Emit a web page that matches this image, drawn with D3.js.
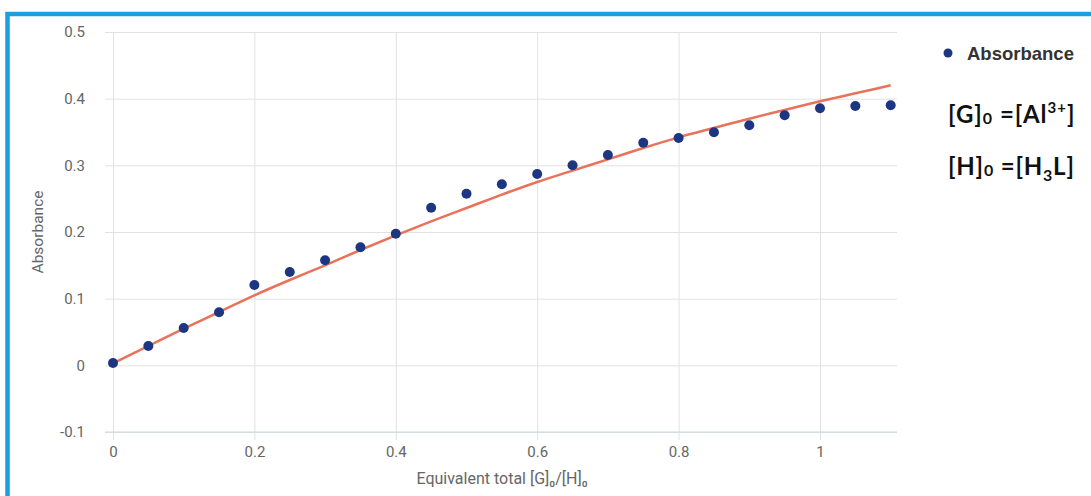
<!DOCTYPE html>
<html>
<head>
<meta charset="utf-8">
<script src="https://cdn.jsdelivr.net/npm/d3@7"></script>
<style>
  html, body { margin: 0; padding: 0; background: #fff; }
  svg { display: block; }
</style>
</head>
<body>
<svg id="chart" width="1091" height="496"></svg>
<script>
// ---- data ----
const ratios = [0, 0.05, 0.1, 0.15, 0.2, 0.25, 0.3, 0.35, 0.4, 0.45, 0.5, 0.55,
                0.6, 0.65, 0.7, 0.75, 0.8, 0.85, 0.9, 0.95, 1.0, 1.05, 1.1];
const absorbance = [0.0035, 0.029, 0.056, 0.0795, 0.1205, 0.14, 0.1575, 0.177, 0.1975,
                    0.2365, 0.2575, 0.2715, 0.287, 0.300, 0.3155, 0.334, 0.341, 0.3495,
                    0.360, 0.375, 0.3855, 0.389, 0.390];
const fitted = [0.003, 0.029, 0.055, 0.080, 0.105, 0.128, 0.150, 0.173, 0.195,
                0.216, 0.236, 0.256, 0.275, 0.292, 0.309, 0.326, 0.342, 0.356,
                0.370, 0.383, 0.396, 0.408, 0.420];
const xTicks = [0, 0.2, 0.4, 0.6, 0.8, 1];
const xTickLabels = ["0", "0.2", "0.4", "0.6", "0.8", "1"];
const yTicks = [-0.1, 0, 0.1, 0.2, 0.3, 0.4, 0.5];
const yTickLabels = ["-0.1", "0", "0.1", "0.2", "0.3", "0.4", "0.5"];
const seriesName = "Absorbance";
const xTitle = "Equivalent total [G]\u2080/[H]\u2080";
const yTitle = "Absorbance";

// ---- layout ----
const svg = d3.select("#chart");
const font = "Roboto, 'Liberation Sans', Arial, sans-serif";
const x = d3.scaleLinear().domain([0, 1.1]).range([113, 890.7]);
const y = d3.scaleLinear().domain([-0.1, 0.5]).range([432, 32]);
const gridLeft = 105, gridRight = 897, gridBottom = 440;

// frame
svg.append("rect")
  .attr("x", 7.5).attr("y", 14).attr("width", 1200).attr("height", 600)
  .attr("fill", "none").attr("stroke", "#1a9fe0").attr("stroke-width", 4.5);

// y axis with horizontal gridlines
const yAxis = svg.append("g")
  .attr("transform", `translate(${gridLeft},0)`)
  .call(d3.axisLeft(y).tickValues(yTicks)
    .tickSize(-(gridRight - gridLeft)).tickPadding(20)
    .tickFormat((d, i) => yTickLabels[i]));
yAxis.select(".domain").remove();
yAxis.selectAll("line").attr("stroke", "#e2e2e2");
yAxis.selectAll("text").attr("fill", "#666").style("font-family", font).style("font-size", "15px");

// x axis with vertical gridlines
const xAxis = svg.append("g")
  .attr("transform", `translate(0,${gridBottom})`)
  .call(d3.axisBottom(x).tickValues(xTicks)
    .tickSize(-(gridBottom - 32)).tickPadding(6)
    .tickFormat((d, i) => xTickLabels[i]));
xAxis.select(".domain").remove();
xAxis.selectAll("line").attr("stroke", "#e2e2e2");
xAxis.selectAll("text").attr("fill", "#666").style("font-family", font).style("font-size", "15px");
// bottom axis line on top of verticals
svg.append("line").attr("x1", gridLeft).attr("x2", gridRight)
  .attr("y1", y(-0.1)).attr("y2", y(-0.1)).attr("stroke", "#ccd6e0");

// axis titles
svg.append("text").attr("x", 502).attr("y", 484).attr("text-anchor", "middle")
  .attr("fill", "#666").style("font-family", font).style("font-size", "16px").text(xTitle);
svg.append("text").attr("transform", "translate(43,232) rotate(-90)").attr("text-anchor", "middle")
  .attr("fill", "#666").style("font-family", font).style("font-size", "15.5px").text(yTitle);

// fitted line
const pts = ratios.map((r, i) => [r, fitted[i]]);
svg.append("path").datum(pts)
  .attr("d", d3.line().x(d => x(d[0])).y(d => y(d[1])).curve(d3.curveMonotoneX))
  .attr("fill", "none").attr("stroke", "#e8735a").attr("stroke-width", 2.5);

// points
svg.append("g").selectAll("circle").data(ratios).join("circle")
  .attr("cx", d => x(d)).attr("cy", (d, i) => y(absorbance[i])).attr("r", 5)
  .attr("fill", "#1c3682");

// legend
svg.append("circle").attr("cx", 948).attr("cy", 53).attr("r", 4.5).attr("fill", "#1c3682");
svg.append("text").attr("x", 967).attr("y", 59.5).attr("fill", "#333")
  .style("font-family", "'Liberation Sans', Arial, sans-serif").style("font-size", "18.5px")
  .style("font-weight", "bold").text(seriesName);

// formula annotations
const ff = "Lato, 'Open Sans', sans-serif";
const t1 = svg.append("text").attr("x", 948).attr("y", 123).attr("fill", "#111")
  .style("font-family", ff).style("font-size", "24px").style("font-weight", "bold")
  .style("letter-spacing", "1px");
t1.append("tspan").text("[G]");
t1.append("tspan").attr("dy", 1).style("font-size", "16px").text("0");
t1.append("tspan").attr("dy", -1).text(" =[Al");
t1.append("tspan").attr("dy", -10).style("font-size", "15px").text("3+");
t1.append("tspan").attr("dy", 10).text("]");

const t2 = svg.append("text").attr("x", 948).attr("y", 175).attr("fill", "#111")
  .style("font-family", ff).style("font-size", "24px").style("font-weight", "bold")
  .style("letter-spacing", "0.8px");
t2.append("tspan").text("[H]");
t2.append("tspan").attr("dy", 1).style("font-size", "16px").text("0");
t2.append("tspan").attr("dy", -1).text(" =[H");
t2.append("tspan").attr("dy", 6).style("font-size", "16px").text("3");
t2.append("tspan").attr("dy", -6).text("L]");
</script>
</body>
</html>
